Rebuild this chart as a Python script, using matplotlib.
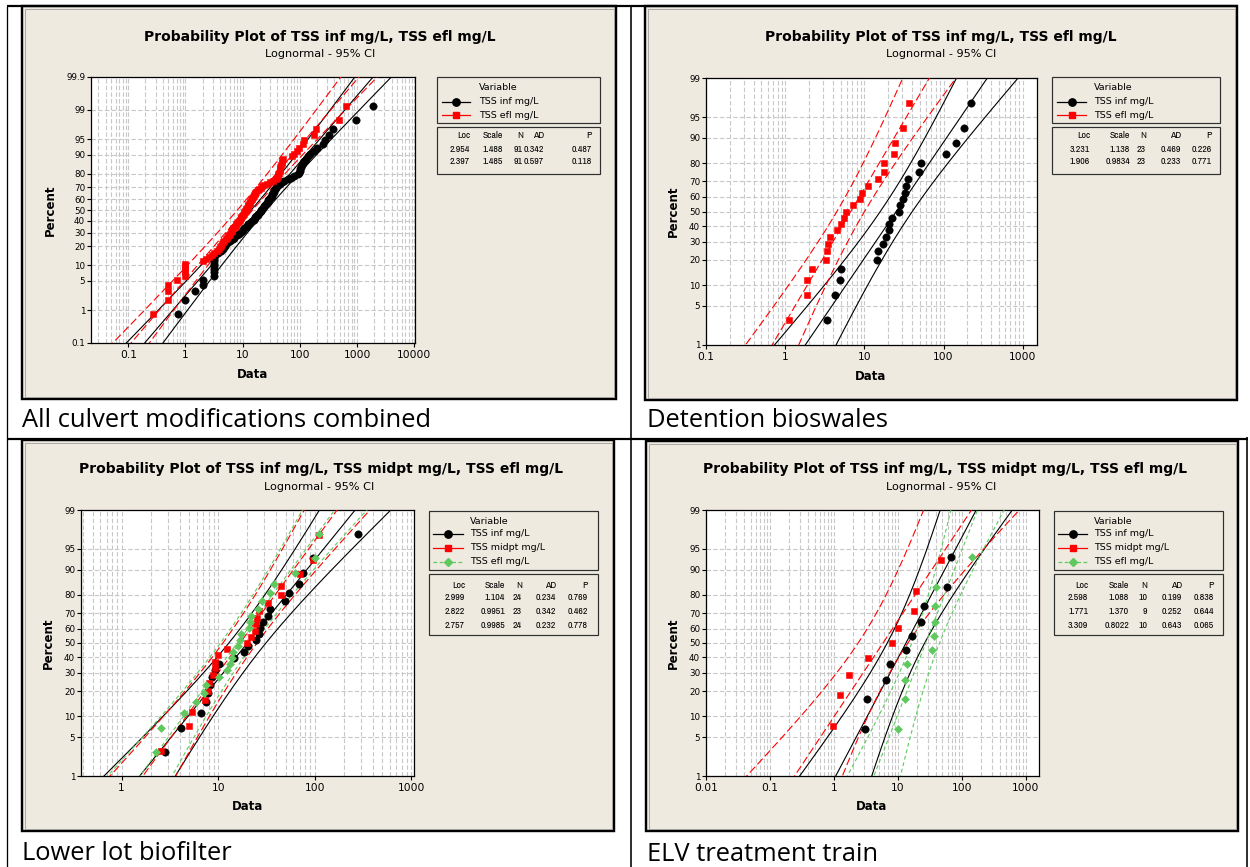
from statistics import NormalDist

import numpy as np
import matplotlib
matplotlib.use("Agg")
from matplotlib import pyplot as plt
from matplotlib import font_manager
from matplotlib.patches import Rectangle
from matplotlib.ticker import FixedLocator, LogLocator, NullLocator, FixedFormatter

W, H = 1250, 867
ND = NormalDist()


def pick_narrow_font():
    '''Look for a condensed sans face for the small statistics table.'''
    for f in font_manager.fontManager.ttflist:
        if ("Narrow" in f.name or "Condensed" in f.name) and f.style == "normal":
            return dict(family=f.name)
    for f in font_manager.fontManager.ttflist:
        if f.stretch in ("condensed", "semi-condensed", "extra-condensed") and f.style == "normal":
            return dict(family=f.name, fontstretch=f.stretch)
    return None


_narrow = pick_narrow_font()
STAT_FONT = _narrow if _narrow else dict(family="Liberation Sans")
STAT_SIZE = 7.1 if _narrow else 5.8

# ---- data (sorted sample values, mg/L) ----------------------------------
culvert_inf = [0.73, 1.0, 1.44, 2.0, 2.0, 3.1, 3.1, 3.1, 3.1, 3.1, 3.1, 3.1, 3.1, 3.1,
               3.67, 4.2, 4.5, 4.7, 4.9, 5.1, 5.5, 6.1, 6.7, 7.0, 7.4, 8.0, 8.5, 9.2,
               9.7, 10.2, 10.7, 11.3, 12.0, 12.6, 13.3, 14.1, 14.6, 15.5, 16.1, 16.7,
               17.4, 18.2, 18.9, 19.7, 20.5, 21.0, 21.6, 22.5, 23.4, 24.4, 25.4, 26.4,
               27.5, 28.2, 29.4, 30.6, 31.5, 32.3, 33.2, 34.1, 35.0, 36.0, 37.0, 38.5,
               40.1, 42.3, 44.6, 48.3, 53.8, 61.5, 70.4, 80.5, 92.0, 98.4, 101, 102,
               105, 108, 112, 120, 129, 138, 153, 180, 200, 252, 277, 329, 376, 963, 1935]
culvert_efl = [0.27, 0.5, 0.5, 0.5, 0.71, 1.0, 1.0, 1.0, 1.0, 1.0,
               2.0, 2.3, 2.6, 2.9, 3.2, 3.6, 3.8, 4.0, 4.2, 4.4, 4.6, 4.8, 5.1, 5.35,
               5.6, 5.8, 6.0, 6.2, 6.5, 6.6, 6.9, 7.2, 7.5, 7.8, 8.1, 8.45, 8.7, 8.9,
               9.3, 9.5, 9.8, 10.0, 10.5, 10.7, 11.0, 11.3, 11.6, 12.0, 12.3, 12.6,
               13.0, 13.3, 13.7, 14.1, 14.4, 14.8, 15.2, 15.7, 16.1, 16.7, 17.4, 18.4,
               19.4, 20.5, 22.2, 24.0, 26.8, 29.8, 33.6, 38.5, 40.1, 41.1, 42.3, 43.4,
               44.6, 45.2, 45.8, 47.0, 48.3, 49.6, 51.0, 72.3, 78.3, 89.6, 98.4, 112,
               120, 180, 192, 479, 644]

bioswale_inf = [3.38, 4.27, 4.93, 5.08, 14.3, 14.9, 17.2, 18.8, 20.3, 20.4, 22.3, 27.4,
                28.1, 31.0, 32.6, 33.1, 35.5, 48.9, 51.3, 106, 143, 180, 223]
bioswale_efl = [1.12, 1.86, 1.86, 2.15, 3.26, 3.35, 3.51, 3.66, 4.52, 5.08, 5.54, 5.93,
                7.2, 8.8, 9.25, 11.2, 15.0, 17.5, 17.7, 23.6, 24.4, 30.7, 36.5]

biofilter_inf = [2.83, 4.14, 6.62, 7.45, 7.88, 8.20, 8.67, 9.24, 10.2, 14.6, 18.4, 20.3,
                 24.5, 26.4, 27.0, 28.8, 32.9, 34.8, 48.9, 53.8, 68.9, 76.3, 96.1, 281]
biofilter_mid = [2.55, 5.01, 5.30, 7.28, 7.76, 8.00, 8.74, 9.24, 9.31, 10.0, 12.3, 20.1,
                 21.9, 23.8, 24.7, 25.3, 26.4, 32.9, 44.2, 45.2, 71.1, 96.1, 111]
biofilter_efl = [2.25, 2.55, 4.41, 5.87, 7.05, 7.45, 10.2, 12.4, 13.3, 14.0, 14.3, 16.2,
                 16.8, 17.4, 20.9, 21.6, 22.1, 26.1, 28.5, 34.5, 38.0, 63.1, 100, 110]

elv_inf = [3.02, 3.25, 6.53, 7.63, 13.3, 16.5, 23.1, 25.7, 59.6, 67.3]
elv_mid = [0.953, 1.24, 1.72, 3.45, 8.11, 10.06, 18.1, 19.5, 47.5]
elv_efl = [9.94, 13.1, 13.1, 13.9, 34.3, 36.9, 38.2, 38.2, 39.1, 143.5]

# ---- fitted lognormal parameters and goodness of fit --------------------
culvert_loc = [2.954, 2.397]
culvert_scale = [1.488, 1.485]
culvert_n = [91, 91]
culvert_ad = [0.342, 0.597]
culvert_p = [0.487, 0.118]

bioswale_loc = [3.231, 1.906]
bioswale_scale = [1.138, 0.9834]
bioswale_n = [23, 23]
bioswale_ad = [0.469, 0.233]
bioswale_p = [0.226, 0.771]

biofilter_loc = [2.999, 2.822, 2.757]
biofilter_scale = [1.104, 0.9951, 0.9985]
biofilter_n = [24, 23, 24]
biofilter_ad = [0.234, 0.342, 0.232]
biofilter_p = [0.769, 0.462, 0.778]

elv_loc = [2.598, 1.771, 3.309]
elv_scale = [1.088, 1.370, 0.8022]
elv_n = [10, 9, 10]
elv_ad = [0.199, 0.252, 0.643]
elv_p = [0.838, 0.644, 0.065]

names_two = ["TSS inf mg/L", "TSS efl mg/L"]
names_three = ["TSS inf mg/L", "TSS midpt mg/L", "TSS efl mg/L"]
title_two = "Probability Plot of TSS inf mg/L, TSS efl mg/L"
title_three = "Probability Plot of TSS inf mg/L, TSS midpt mg/L, TSS efl mg/L"
subtitle = "Lognormal - 95% CI"
captions = ["All culvert modifications combined", "Detention bioswales",
            "Lower lot biofilter", "ELV treatment train"]

pct_ticks_wide = [0.1, 1, 5, 10, 20, 30, 40, 50, 60, 70, 80, 90, 95, 99, 99.9]
pct_ticks = [1, 5, 10, 20, 30, 40, 50, 60, 70, 80, 90, 95, 99]

# ---- styling -------------------------------------------------------------
PANEL_BG = "#EEEAE0"
GRID = "#C8C8C8"
SERIES_STYLE = [
    dict(color="#000000", marker="o", ms=5.3, ls="-", leg_ls="-"),
    dict(color="#FF0000", marker="s", ms=4.8, ls=(0, (7, 3)), leg_ls="-"),
    dict(color="#5FC95F", marker="D", ms=4.2, ls=(0, (3.5, 2.5)), leg_ls=(0, (3, 2))),
]

LAYOUT = [
    dict(frame=(22, 6, 616, 399), axes=(91, 77, 415, 343), title=(320, 37), sub=(320, 54),
         ylabel_x=50, xlabel=(253, 375), legend_x=(437, 600), box1=(77, 123), box2=(127, 174),
         line_x=(442, 470), text_x=479, rows_y=[87, 102, 115], stats_y=[136, 150, 162],
         cols=[470, 503, 523, 544, 592], caption=(22, 427)),
    dict(frame=(645, 6, 1237, 400), axes=(706, 78, 1037, 345), title=(941, 37), sub=(941, 54),
         ylabel_x=673, xlabel=(871, 376), legend_x=(1052, 1220), box1=(77, 123), box2=(127, 174),
         line_x=(1057, 1086), text_x=1094, rows_y=[87, 102, 115], stats_y=[136, 150, 162],
         cols=[1090, 1130, 1146, 1181, 1212], caption=(647, 427)),
    dict(frame=(22, 440, 614, 831), axes=(81, 510, 414, 776), title=(321, 469), sub=(319, 487),
         ylabel_x=48, xlabel=(248, 807), legend_x=(429, 598), box1=(511, 570), box2=(574, 635),
         line_x=(433, 463), text_x=470, rows_y=[521, 534, 548, 562], stats_y=[585, 598, 612, 626],
         cols=[465, 505, 522, 556, 588], caption=(22, 860)),
    dict(frame=(646, 441, 1238, 831), axes=(706, 510, 1039, 776), title=(945, 469), sub=(941, 487),
         ylabel_x=673, xlabel=(872, 807), legend_x=(1054, 1223), box1=(511, 570), box2=(574, 635),
         line_x=(1058, 1087), text_x=1094, rows_y=[521, 534, 548, 562], stats_y=[585, 598, 612, 626],
         cols=[1088, 1129, 1147, 1182, 1214], caption=(647, 861)),
]

PANELS = [
    dict(title=title_two, names=names_two, samples=[culvert_inf, culvert_efl],
         loc=culvert_loc, scale=culvert_scale, n=culvert_n, ad=culvert_ad, p=culvert_p,
         xlim=(0.0223, 10300), xticks=[0.1, 1, 10, 100, 1000, 10000],
         ylim=(0.1, 99.9), yticks=pct_ticks_wide),
    dict(title=title_two, names=names_two, samples=[bioswale_inf, bioswale_efl],
         loc=bioswale_loc, scale=bioswale_scale, n=bioswale_n, ad=bioswale_ad, p=bioswale_p,
         xlim=(0.1, 1515), xticks=[0.1, 1, 10, 100, 1000],
         ylim=(1, 99), yticks=pct_ticks),
    dict(title=title_three, names=names_three,
         samples=[biofilter_inf, biofilter_mid, biofilter_efl],
         loc=biofilter_loc, scale=biofilter_scale, n=biofilter_n, ad=biofilter_ad, p=biofilter_p,
         xlim=(0.38, 1065), xticks=[1, 10, 100, 1000],
         ylim=(1, 99), yticks=pct_ticks),
    dict(title=title_three, names=names_three, samples=[elv_inf, elv_mid, elv_efl],
         loc=elv_loc, scale=elv_scale, n=elv_n, ad=elv_ad, p=elv_p,
         xlim=(0.01, 1620), xticks=[0.01, 0.1, 1, 10, 100, 1000],
         ylim=(1, 99), yticks=pct_ticks),
]

PX = 0.72  # points per pixel at 100 dpi

_ppf = np.vectorize(lambda p: ND.inv_cdf(min(max(p, 1e-7), 100 - 1e-7) / 100.0), otypes=[float])
_cdf = np.vectorize(lambda z: ND.cdf(z) * 100.0, otypes=[float])


def prob_forward(p):
    return _ppf(np.asarray(p, dtype=float))


def prob_inverse(z):
    return _cdf(np.asarray(z, dtype=float))


def median_ranks(n):
    '''Benard plotting positions in percent.'''
    return (np.arange(1, n + 1) - 0.3) / (n + 0.4) * 100.0


def fit_lines(loc, scale, n, z):
    '''Fitted lognormal percentile line with its 95% confidence limits.'''
    centre = loc + scale * z
    half = 1.959964 * scale * np.sqrt(1.0 / n + z ** 2 / (2.0 * n))
    return np.exp(centre - half), np.exp(centre), np.exp(centre + half)


def px_rect(x0, y0, x1, y1):
    return [x0 / W, 1 - y1 / H, (x1 - x0) / W, (y1 - y0) / H]


def fmt_scale(v):
    return f"{v:.3f}" if v >= 1 else f"{v:.4f}"


def draw_plot(fig, lay, spec):
    ax = fig.add_axes(px_rect(*lay["axes"]), zorder=2)
    ax.set_facecolor("white")
    ax.set_xscale("log")
    ax.set_yscale("function", functions=(prob_forward, prob_inverse))
    ax.set_xlim(*spec["xlim"])
    ax.set_ylim(*spec["ylim"])

    ax.xaxis.set_major_locator(FixedLocator(spec["xticks"]))
    ax.xaxis.set_major_formatter(FixedFormatter([f"{v:g}" for v in spec["xticks"]]))
    ax.xaxis.set_minor_locator(LogLocator(base=10, subs=np.arange(2, 10), numticks=30))
    ax.yaxis.set_major_locator(FixedLocator(spec["yticks"]))
    ax.yaxis.set_major_formatter(FixedFormatter([f"{v:g}" for v in spec["yticks"]]))
    ax.yaxis.set_minor_locator(NullLocator())

    ax.set_axisbelow(True)
    ax.grid(True, which="both", axis="x", color=GRID, lw=0.8, ls=(0, (4, 2)))
    ax.grid(True, which="major", axis="y", color=GRID, lw=0.8, ls=(0, (4, 2)))
    ax.tick_params(which="major", direction="out", length=3.2, width=0.8, pad=1.5)
    ax.tick_params(axis="x", labelsize=7.7)
    ax.tick_params(axis="y", labelsize=6.3, pad=1.0)
    ax.tick_params(which="minor", length=0)
    for sp in ax.spines.values():
        sp.set_linewidth(0.9)

    zgrid = np.linspace(-3.4, 3.4, 240)
    pgrid = prob_inverse(zgrid)
    for k, data in enumerate(spec["samples"]):
        st = SERIES_STYLE[k]
        for xs in fit_lines(spec["loc"][k], spec["scale"][k], spec["n"][k], zgrid):
            ax.plot(xs, pgrid, color=st["color"], lw=0.8, ls=st["ls"], zorder=3)
    for k, data in enumerate(spec["samples"]):
        st = SERIES_STYLE[k]
        vals = np.sort(np.asarray(data, dtype=float))
        ax.plot(vals, median_ranks(len(vals)), ls="none", marker=st["marker"],
                ms=st["ms"], mfc=st["color"], mec=st["color"], mew=0.4, zorder=4,
                clip_on=False)
    return ax


def draw_legend(bg, lay, spec):
    lx0, lx1 = lay["legend_x"]
    for (y0, y1) in (lay["box1"], lay["box2"]):
        bg.add_patch(Rectangle((lx0, y0), lx1 - lx0, y1 - y0, fill=False,
                               ec="#303030", lw=1.2 * PX))
    rows = lay["rows_y"]
    bg.text(lay["text_x"], rows[0], "Variable", fontsize=6.8, va="center", ha="left")
    xa, xb = lay["line_x"]
    for k, name in enumerate(spec["names"]):
        st = SERIES_STYLE[k]
        y = rows[k + 1]
        bg.plot([xa, xb], [y, y], color=st["color"], lw=0.9, ls=st["leg_ls"])
        bg.plot([(xa + xb) / 2], [y], ls="none", marker=st["marker"], ms=st["ms"],
                mfc=st["color"], mec=st["color"])
        bg.text(lay["text_x"], y, name, fontsize=6.8, va="center", ha="left")

    cols = lay["cols"]
    srow = lay["stats_y"]
    for c, head in zip(cols, ["Loc", "Scale", "N", "AD", "P"]):
        bg.text(c, srow[0], head, fontsize=STAT_SIZE, ha="right", va="center", **STAT_FONT)
    for k in range(len(spec["names"])):
        cells = [f"{spec['loc'][k]:.3f}", fmt_scale(spec["scale"][k]), f"{spec['n'][k]}",
                 f"{spec['ad'][k]:.3f}", f"{spec['p'][k]:.3f}"]
        for c, txt in zip(cols, cells):
            bg.text(c, srow[k + 1], txt, fontsize=STAT_SIZE, ha="right", va="center",
                    **STAT_FONT)


def main():
    fig = plt.figure(figsize=(W / 100, H / 100), dpi=100, facecolor="white")
    bg = fig.add_axes([0, 0, 1, 1], zorder=0)
    bg.set_xlim(0, W)
    bg.set_ylim(H, 0)
    bg.axis("off")

    # table rules around the four cells
    rule = dict(color="black", solid_capstyle="butt")
    bg.plot([7, 1237], [6, 6], lw=2.2 * PX, **rule)
    bg.plot([7, 7], [6, H], lw=1.3 * PX, **rule)
    bg.plot([631, 631], [6, H], lw=1.6 * PX, **rule)
    bg.plot([1247, 1247], [437, H], lw=1.6 * PX, **rule)
    bg.plot([7, 1248], [438.5, 438.5], lw=2.2 * PX, **rule)

    for lay, spec, caption in zip(LAYOUT, PANELS, captions):
        x0, y0, x1, y1 = lay["frame"]
        bg.add_patch(Rectangle((x0, y0), x1 - x0, y1 - y0, fc=PANEL_BG, ec="black",
                               lw=2.4 * PX, zorder=1))
        bg.add_patch(Rectangle((x0 + 2.5, y0 + 2.5), x1 - x0 - 5, y1 - y0 - 5, fill=False,
                               ec="#9A9A9A", lw=0.8 * PX, zorder=1))
        bg.text(*lay["title"], spec["title"], fontsize=10, fontweight="bold",
                ha="center", va="center")
        bg.text(*lay["sub"], subtitle, fontsize=8.1, ha="center", va="center")
        ax0, ay0, ax1, ay1 = lay["axes"]
        bg.text(lay["ylabel_x"], (ay0 + ay1) / 2, "Percent", fontsize=8.5,
                fontweight="bold", rotation=90, ha="center", va="center")
        bg.text(*lay["xlabel"], "Data", fontsize=8.5, fontweight="bold",
                ha="center", va="center")
        draw_legend(bg, lay, spec)
        bg.text(*lay["caption"], caption, family=["Open Sans", "DejaVu Sans"], fontsize=18.4,
                ha="left", va="baseline")
        draw_plot(fig, lay, spec)

    fig.savefig("out.png", dpi=100)


if __name__ == "__main__":
    main()
